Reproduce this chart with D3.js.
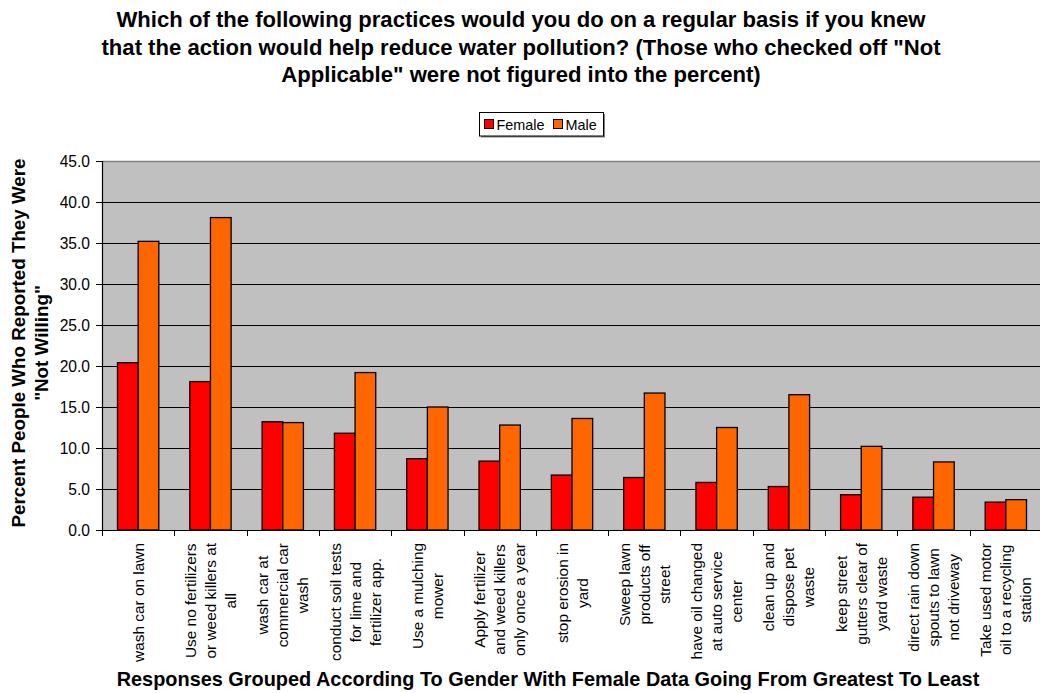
<!DOCTYPE html>
<html>
<head>
<meta charset="utf-8">
<script src="https://cdn.jsdelivr.net/npm/d3@7"></script>
<style>
  html, body { margin: 0; padding: 0; background: #fff; }
  svg { display: block; font-family: "Liberation Sans", Arial, sans-serif; }
</style>
</head>
<body>
<svg id="chart" width="1040" height="693"></svg>
<script>
// Practices (each entry holds the wrapped lines of its axis label)
const categories = [
  ["wash car on lawn"],
  ["Use no fertilizers", "or weed killers at", "all"],
  ["wash car at", "commercial car", "wash"],
  ["conduct soil tests", "for lime and", "fertilizer app."],
  ["Use a mulching", "mower"],
  ["Apply fertilizer", "and weed killers", "only once a year"],
  ["stop erosion in", "yard"],
  ["Sweep lawn", "products off", "street"],
  ["have oil changed", "at auto service", "center"],
  ["clean up and", "dispose pet", "waste"],
  ["keep street", "gutters clear of", "yard waste"],
  ["direct rain down", "spouts to lawn", "not driveway"],
  ["Take used motor", "oil to a recycling", "station"]
];
const seriesNames = ["Female", "Male"];
const female = [20.4, 18.1, 13.2, 11.8, 8.7, 8.4, 6.7, 6.4, 5.8, 5.3, 4.3, 4.0, 3.4];
const male   = [35.2, 38.1, 13.1, 19.2, 15.0, 12.8, 13.6, 16.7, 12.5, 16.5, 10.2, 8.3, 3.7];
const yTicks = [0, 5, 10, 15, 20, 25, 30, 35, 40, 45];
const colors = ["#FF0000", "#FF6600"];

const titleLines = [
  "Which of the following practices would you do on a regular basis if you knew",
  "that the action would help reduce water pollution? (Those who checked off \"Not",
  "Applicable\" were not figured into the percent)"
];
const yTitleLines = ["Percent People Who Reported They Were", "\"Not Willing\""];
const xTitle = "Responses Grouped According To Gender With Female Data Going From Greatest To Least";

const svg = d3.select("#chart");
const plot = { left: 102, right: 1042, top: 161, bottom: 530 };

const x = d3.scaleBand()
  .domain(d3.range(categories.length))
  .range([plot.left, plot.right])
  .padding(0);
const xSub = d3.scaleBand()
  .domain(seriesNames)
  .range([0, x.bandwidth()])
  .paddingInner(0)
  .paddingOuter(0.75);
const y = d3.scaleLinear().domain([0, 45]).range([plot.bottom, plot.top]);

// plot background
svg.append("rect")
  .attr("x", plot.left).attr("y", plot.top)
  .attr("width", plot.right - plot.left).attr("height", plot.bottom - plot.top)
  .attr("fill", "#C0C0C0");

// top border of plot area
svg.append("line")
  .attr("x1", plot.left).attr("x2", plot.right)
  .attr("y1", y(45) + 0.5).attr("y2", y(45) + 0.5)
  .attr("stroke", "#808080").attr("stroke-width", 1.5);

// horizontal gridlines
svg.append("g").selectAll("line")
  .data(yTicks.filter(t => t > 0 && t < 45))
  .join("line")
  .attr("x1", plot.left).attr("x2", plot.right)
  .attr("y1", d => Math.round(y(d)) + 0.5).attr("y2", d => Math.round(y(d)) + 0.5)
  .attr("stroke", "#000").attr("stroke-width", 1.2);

// bars
const rows = categories.map((c, i) => ({ i, values: [female[i], male[i]] }));
const groups = svg.append("g").selectAll("g")
  .data(rows)
  .join("g")
  .attr("transform", d => `translate(${x(d.i)},0)`);
groups.selectAll("rect")
  .data(d => d.values.map((v, k) => ({ name: seriesNames[k], v, k })))
  .join("rect")
  .attr("x", d => xSub(d.name))
  .attr("y", d => y(d.v))
  .attr("width", xSub.bandwidth())
  .attr("height", d => y(0) - y(d.v))
  .attr("fill", d => colors[d.k])
  .attr("stroke", "#000")
  .attr("stroke-width", 1.3);

// y axis
const yAxis = d3.axisLeft(y)
  .tickValues(yTicks)
  .tickFormat(d3.format(".1f"))
  .tickSize(6)
  .tickPadding(6);
const gy = svg.append("g")
  .attr("transform", `translate(${plot.left},0)`)
  .call(yAxis);
gy.select(".domain").attr("stroke", "#000").attr("stroke-width", 1.2);
gy.selectAll(".tick line").attr("stroke", "#000");
gy.selectAll(".tick text")
  .attr("font-size", 15.6)
  .attr("font-family", "Liberation Sans, Arial, sans-serif")
  .attr("fill", "#000");

// x axis: ticks sit on the band boundaries
const boundaries = d3.range(categories.length + 1).map(i => plot.left + i * x.step());
svg.append("line")
  .attr("x1", plot.left).attr("x2", plot.right)
  .attr("y1", plot.bottom + 0.5).attr("y2", plot.bottom + 0.5)
  .attr("stroke", "#000").attr("stroke-width", 1.2);
svg.append("g").selectAll("line")
  .data(boundaries)
  .join("line")
  .attr("x1", d => Math.round(d) + 0.5).attr("x2", d => Math.round(d) + 0.5)
  .attr("y1", plot.bottom).attr("y2", plot.bottom + 6)
  .attr("stroke", "#000");

// category labels, rotated and stacked
const labelTop = 543;
const lineGap = 20;
const labelGroups = svg.append("g").selectAll("g")
  .data(categories)
  .join("g");
labelGroups.each(function (lines, i) {
  const g = d3.select(this);
  const texts = g.selectAll("text")
    .data(lines)
    .join("text")
    .attr("font-size", 15.4)
    .attr("fill", "#000")
    .attr("text-anchor", "middle")
    .attr("dominant-baseline", "central")
    .text(d => d);
  const maxW = d3.max(texts.nodes(), n => n.getComputedTextLength());
  const cx = x(i) + x.bandwidth() / 2;
  const cy = labelTop + maxW / 2;
  const n = lines.length;
  texts.attr("transform", (d, k) => {
    const off = (k - (n - 1) / 2) * lineGap;
    return `translate(${cx + off},${cy}) rotate(-90)`;
  });
});

// chart title
svg.append("g").selectAll("text")
  .data(titleLines)
  .join("text")
  .attr("x", 521)
  .attr("y", (d, k) => 27 + k * 27.5)
  .attr("text-anchor", "middle")
  .attr("font-size", 22.1)
  .attr("font-weight", "bold")
  .attr("fill", "#000")
  .text(d => d);

// y axis title
svg.append("g").selectAll("text")
  .data(yTitleLines)
  .join("text")
  .attr("transform", (d, k) => `translate(${18 + k * 23},343) rotate(-90)`)
  .attr("text-anchor", "middle")
  .attr("dominant-baseline", "central")
  .attr("font-size", 18.8)
  .attr("font-weight", "bold")
  .attr("fill", "#000")
  .text(d => d);

// x axis title
svg.append("text")
  .attr("x", 548).attr("y", 686)
  .attr("text-anchor", "middle")
  .attr("font-size", 19.9)
  .attr("font-weight", "bold")
  .attr("fill", "#000")
  .text(xTitle);

// legend
const legend = svg.append("g").attr("transform", "translate(479.5,112.5)");
legend.append("rect")
  .attr("x", 1.5).attr("y", 1.5).attr("width", 124).attr("height", 23.5)
  .attr("fill", "#808080");
legend.append("rect")
  .attr("width", 124).attr("height", 23.5)
  .attr("fill", "#fff").attr("stroke", "#000");
const legendX = [5, 74];
const items = legend.selectAll("g.item")
  .data(seriesNames)
  .join("g")
  .attr("class", "item")
  .attr("transform", (d, k) => `translate(${legendX[k]},0)`);
items.append("rect")
  .attr("x", 0).attr("y", 7).attr("width", 9).attr("height", 9)
  .attr("fill", (d, k) => colors[k])
  .attr("stroke", "#000");
items.append("text")
  .attr("x", 12).attr("y", 12)
  .attr("dominant-baseline", "central")
  .attr("font-size", 14.4)
  .attr("fill", "#000")
  .text(d => d);
</script>
</body>
</html>
